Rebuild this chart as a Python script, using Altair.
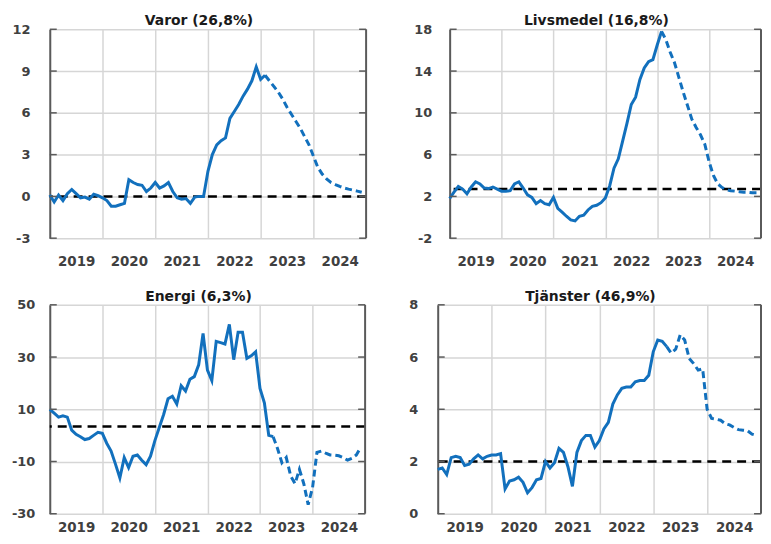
import altair as alt
import pandas as pd

START_YEAR = 2019
YEAR_TICKS = [2019, 2020, 2021, 2022, 2023, 2024]
X_DOMAIN = [2019, 2025]

# ---- Varor ----
varor_title = "Varor (26,8%)"
varor_actual = [
    0.1, -0.4, 0.1, -0.3, 0.2, 0.5, 0.2, -0.1, -0.05, -0.2, 0.15, 0.05,
    -0.1, -0.3, -0.7, -0.7, -0.6, -0.5, 1.2, 1.0, 0.85, 0.8, 0.35, 0.6,
    1.0, 0.6, 0.75, 1.0, 0.35, -0.1, -0.2, -0.15, -0.5, -0.05, 0.0, 0.0,
    1.8, 3.0, 3.7, 4.0, 4.2, 5.6, 6.1, 6.6, 7.2, 7.7, 8.3, 9.3,
    8.4, 8.7,
]
varor_forecast = [
    8.7, 8.3, 7.9, 7.5, 7.0, 6.4, 5.9, 5.4, 4.9, 4.3, 3.7, 2.9,
    2.1, 1.6, 1.25, 1.0, 0.85, 0.72, 0.6, 0.52, 0.45, 0.38, 0.3,
]
varor_ref = 0.0
varor_ticks = [-3, 0, 3, 6, 9, 12]

# ---- Livsmedel ----
livs_title = "Livsmedel (16,8%)"
livs_actual = [
    1.8, 2.4, 2.95, 2.7, 2.25, 2.9, 3.4, 3.2, 2.8, 2.75, 2.9, 2.7,
    2.5, 2.5, 2.55, 3.2, 3.4, 2.8, 2.15, 1.9, 1.3, 1.6, 1.3, 1.2,
    1.9, 0.85, 0.5, 0.1, -0.25, -0.35, 0.1, 0.2, 0.7, 1.05, 1.15, 1.4,
    1.85, 3.0, 4.7, 5.6, 7.3, 9.0, 10.8, 11.5, 13.2, 14.3, 14.9, 15.1,
    16.5, 17.8,
]
livs_forecast = [
    17.8, 17.0, 15.8, 14.8, 13.4, 12.0, 10.7, 9.4, 8.6, 7.9, 7.0, 5.3,
    4.0, 3.2, 2.85, 2.65, 2.55, 2.5, 2.45, 2.4, 2.4, 2.35, 2.35,
]
livs_ref = 2.7
livs_ticks = [-2, 2, 6, 10, 14, 18]

# ---- Energi ----
energi_title = "Energi (6,3%)"
energi_actual = [
    10.0, 8.5, 7.0, 7.5, 7.0, 2.0, 0.4, -0.5, -1.6, -1.2, 0.0, 1.2,
    0.8, -3.0, -6.0, -11.0, -16.3, -8.5, -12.3, -8.0, -7.5, -9.5, -11.2, -8.0,
    -2.0, 3.0, 8.0, 14.0, 15.0, 12.0, 19.0, 17.0, 21.5, 22.5, 27.0, 39.0,
    25.0, 21.0, 36.0, 35.5, 35.0, 42.5, 29.0, 39.5, 39.5, 29.5, 30.5, 32.0,
    18.0, 12.5, 0.0, -0.5,
]
energi_forecast = [
    -0.5, -5.0, -10.5, -8.5, -15.5, -18.5, -13.0, -18.5, -26.5, -20.0, -6.5,
    -6.0, -6.8, -7.5, -7.6, -7.8, -8.5, -9.5, -8.8, -7.5, -4.5,
]
energi_ref = 3.4
energi_ticks = [-30, -10, 10, 30, 50]

# ---- Tjänster ----
tj_title = "Tjänster (46,9%)"
tj_actual = [
    1.7, 1.75, 1.5, 2.15, 2.2, 2.15, 1.85, 1.9, 2.1, 2.25, 2.1, 2.2,
    2.25, 2.25, 2.3, 0.95, 1.25, 1.3, 1.4, 1.2, 0.8, 1.0, 1.3, 1.35,
    2.0, 1.75, 1.95, 2.5, 2.35, 1.8, 1.05, 2.35, 2.8, 3.0, 3.0, 2.55,
    2.8, 3.25, 3.5, 4.2, 4.55, 4.8, 4.85, 4.85, 5.05, 5.1, 5.1, 5.3,
    6.2, 6.65, 6.6, 6.4,
]
tj_forecast = [
    6.4, 6.15, 6.3, 6.85, 6.65, 5.95, 5.75, 5.5, 5.55, 4.0, 3.65,
    3.62, 3.58, 3.45, 3.4, 3.3, 3.22, 3.2, 3.18, 3.05, 3.0,
]
tj_ref = 2.0
tj_ticks = [0, 2, 4, 6, 8]

BLUE = "#1270bd"
GRID = "#d6d6d6"
AXIS = "#5a5a5a"
LABEL = "#404040"
FONT = "DejaVu Sans"
Y_LABEL_EXPR = "datum.value < 0 ? '-' + format(-datum.value, 'd') : format(datum.value, 'd')"


def panel(title, actual, forecast, ref, ticks, w, h, y_extent, y_pad, x_extent, x_pad, title_offset):
    n = len(actual)
    df_a = pd.DataFrame({"t": [START_YEAR + i / 12 for i in range(n)], "v": actual})
    df_f = pd.DataFrame({"t": [START_YEAR + (n - 1 + i) / 12 for i in range(len(forecast))], "v": forecast})
    df_ref = pd.DataFrame({"v": [ref]})
    df_ticks = pd.DataFrame({"v": ticks})

    xs = alt.Scale(domain=X_DOMAIN, nice=False, zero=False)
    ys = alt.Scale(domain=[ticks[0], ticks[-1]], nice=False, zero=False)
    x_axis = alt.Axis(
        values=YEAR_TICKS, title=None, grid=True, gridColor=GRID, gridWidth=1.5,
        ticks=False, domain=False, format="d", labelOffset=w / 12, labelPadding=x_pad,
        labelFont=FONT, labelFontSize=13.5, labelFontWeight="bold", labelColor=LABEL,
        labelOverlap=False, labelBound=False, labelFlush=False,
        minExtent=x_extent, maxExtent=x_extent,
    )
    y_axis = alt.Axis(
        values=ticks, title=None, grid=True, gridColor=GRID, gridWidth=1.5,
        ticks=False, domain=True, domainColor=AXIS, domainWidth=2, labelPadding=y_pad,
        labelExpr=Y_LABEL_EXPR,
        labelFont=FONT, labelFontSize=13, labelFontWeight="bold", labelColor=LABEL,
        labelOverlap=False, labelBound=False, labelFlush=False,
        minExtent=y_extent, maxExtent=y_extent,
    )
    X = alt.X("t:Q", scale=xs, axis=x_axis)
    Y = alt.Y("v:Q", scale=ys, axis=y_axis)

    ref_line = alt.Chart(df_ref).mark_rule(color="black", strokeDash=[9, 6], strokeWidth=2.5).encode(y=Y)
    act = alt.Chart(df_a).mark_line(color=BLUE, strokeWidth=3).encode(x=X, y=Y)
    fc = alt.Chart(df_f).mark_line(color=BLUE, strokeWidth=3, strokeDash=[7, 4]).encode(x=X, y=Y)
    tl = alt.Chart(df_ticks).mark_rule(color=AXIS, strokeWidth=1.5).encode(
        y=Y, x=alt.value(0), x2=alt.value(7))
    tr = alt.Chart(df_ticks).mark_rule(color=AXIS, strokeWidth=1.5).encode(
        y=Y, x=alt.value(w - 7), x2=alt.value(w))
    border = alt.Chart(df_ref).mark_rule(color=AXIS, strokeWidth=2).encode(
        x=alt.value(w), y=alt.value(0), y2=alt.value(h))

    return alt.layer(ref_line, act, fc, tl, tr, border).properties(
        width=w, height=h,
        title=alt.TitleParams(
            text=title, font=FONT, fontSize=14, fontWeight="bold", color="#1a1a1a",
            anchor="middle", frame="group", offset=title_offset, dx=-9,
        ),
    )


p1 = panel(varor_title, varor_actual, varor_forecast, varor_ref, varor_ticks, 318, 210, 42, 20, 30, 16, -4.5)
p2 = panel(livs_title, livs_actual, livs_forecast, livs_ref, livs_ticks, 313, 210, 38, 18, 30, 16, -4.5)
p3 = panel(energi_title, energi_actual, energi_forecast, energi_ref, energi_ticks, 317, 210, 42, 15, 20, 7, -5.5)
p4 = panel(tj_title, tj_actual, tj_forecast, tj_ref, tj_ticks, 325, 210, 32, 20, 20, 7, -5.5)

row1 = alt.hconcat(p1, p2, spacing=44)
row2 = alt.hconcat(p3, p4, spacing=39)
chart = alt.vconcat(row1, row2, spacing=22).properties(
    padding={"top": 4, "left": 0, "right": 0, "bottom": 0}
).configure_view(strokeWidth=0)

chart.save("out.html", embed_options={"renderer": "svg", "actions": False})
